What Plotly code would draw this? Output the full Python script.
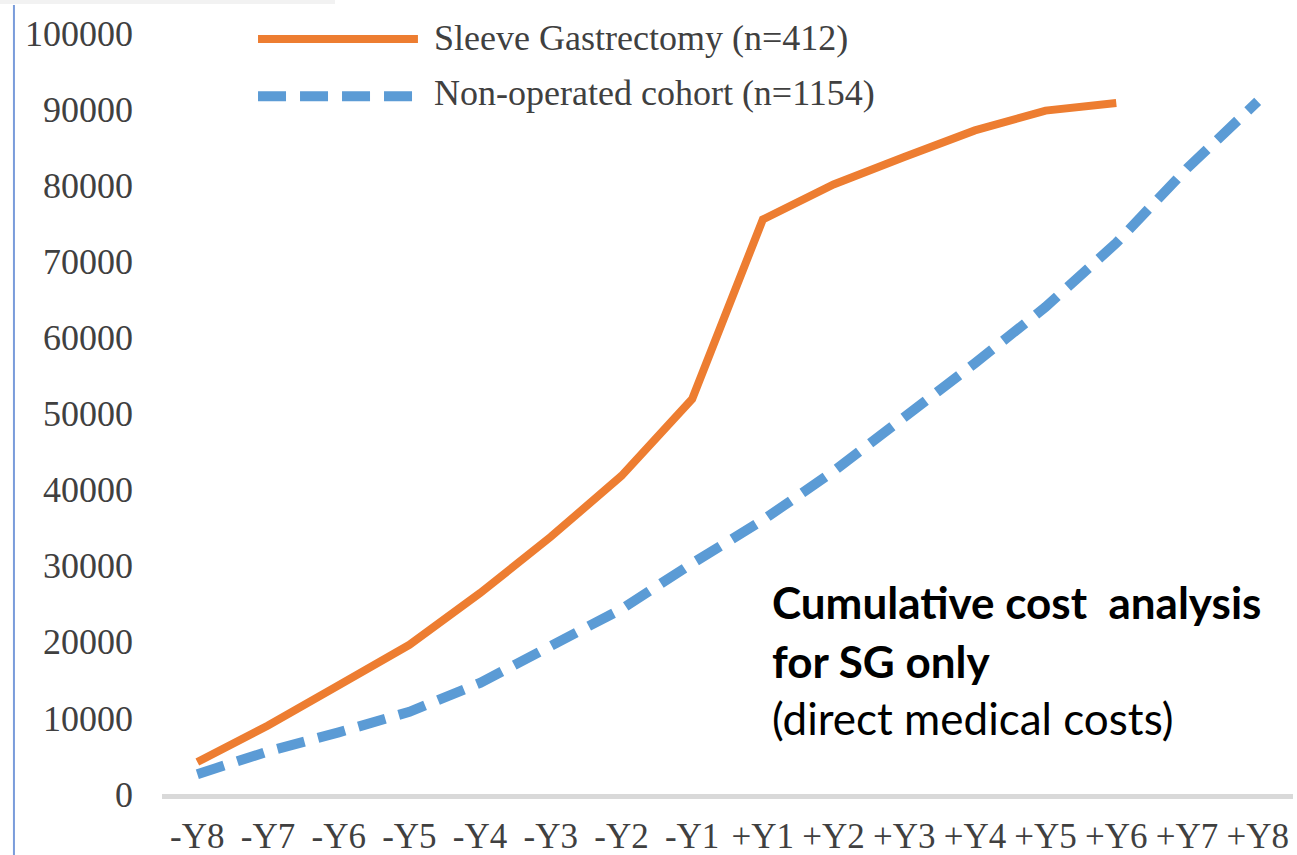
import plotly.graph_objects as go

# Cumulative direct medical costs per year relative to surgery
categories = ["-Y8", "-Y7", "-Y6", "-Y5", "-Y4", "-Y3", "-Y2", "-Y1",
              "+Y1", "+Y2", "+Y3", "+Y4", "+Y5", "+Y6", "+Y7", "+Y8"]
sleeve_gastrectomy = [4200, 9000, 14300, 19600, 26400, 33800, 41800, 51900,
                      75500, 80100, 83700, 87200, 89800, 90800, None, None]
non_operated = [2600, 5600, 8100, 10800, 14600, 19400, 24300, 30300,
                36000, 42400, 49400, 56600, 64000, 72400, 82200, 91000]

y_ticks = [0, 10000, 20000, 30000, 40000, 50000, 60000, 70000, 80000, 90000, 100000]

legend_labels = ["Sleeve Gastrectomy (n=412)", "Non-operated cohort (n=1154)"]
note_lines = ["Cumulative cost  analysis", "for SG only", "(direct medical costs)"]

ORANGE = "#ED7D31"
BLUE = "#5B9BD5"
TEXT = "#404040"
SERIF = "Liberation Serif, Times New Roman, serif"
SANS = "Lato, Open Sans, sans-serif"
BLUE_DASH = "28px,14px"

fig = go.Figure()
fig.add_trace(go.Scatter(
    x=categories, y=sleeve_gastrectomy, mode="lines", name=legend_labels[0],
    line=dict(color=ORANGE, width=8), connectgaps=False, cliponaxis=False,
))
fig.add_trace(go.Scatter(
    x=categories, y=non_operated, mode="lines", name=legend_labels[1],
    line=dict(color=BLUE, width=10, dash=BLUE_DASH), cliponaxis=False,
))

shapes = [
    # legend line samples
    dict(type="line", xref="paper", yref="paper", x0=0.0849, x1=0.2263, y0=0.992, y1=0.992,
         line=dict(color=ORANGE, width=8)),
    dict(type="line", xref="paper", yref="paper", x0=0.0849, x1=0.2237, y0=0.917, y1=0.917,
         line=dict(color=BLUE, width=10, dash=BLUE_DASH)),
    # page frame marks
    dict(type="line", xref="paper", yref="paper", x0=-0.1309, x1=-0.1309, y0=1.0368, y1=-0.09,
         line=dict(color="#7A9CDB", width=2)),
    dict(type="rect", xref="paper", yref="paper", x0=-0.1432, x1=0.153, y0=1.0381, y1=1.0434,
         line=dict(width=0), fillcolor="#F2F2F2"),
]

annotations = [
    dict(xref="paper", yref="paper", x=0.2387, y=0.994, xanchor="left", yanchor="middle",
         text=legend_labels[0], showarrow=False, font=dict(family=SERIF, size=36, color=TEXT)),
    dict(xref="paper", yref="paper", x=0.2387, y=0.9218, xanchor="left", yanchor="middle",
         text=legend_labels[1], showarrow=False, font=dict(family=SERIF, size=36, color=TEXT)),
    dict(xref="paper", yref="paper", x=0.538, y=0.2523, xanchor="left", yanchor="middle",
         text="<b>" + note_lines[0] + "</b>", showarrow=False,
         font=dict(family=SANS, size=44, color="#000000")),
    dict(xref="paper", yref="paper", x=0.538, y=0.1754, xanchor="left", yanchor="middle",
         text="<b>" + note_lines[1] + "</b>", showarrow=False,
         font=dict(family=SANS, size=44, color="#000000")),
    dict(xref="paper", yref="paper", x=0.538, y=0.0999, xanchor="left", yanchor="middle",
         text=note_lines[2], showarrow=False,
         font=dict(family=SANS, size=44, color="#000000")),
]

fig.update_layout(
    width=1297, height=855, autosize=False,
    margin=dict(l=162, r=4, t=33, b=61),
    paper_bgcolor="white", plot_bgcolor="white",
    showlegend=False,
    shapes=shapes, annotations=annotations,
    xaxis=dict(
        type="category", categoryorder="array", categoryarray=categories,
        range=[-0.5, 15.5], showgrid=False, zeroline=False, automargin=False,
        showline=True, linecolor="#D9D9D9", linewidth=5,
        ticks="", ticklabelstandoff=7,
        tickfont=dict(family=SERIF, size=35, color=TEXT),
    ),
    yaxis=dict(
        range=[0, 100000], tickvals=y_ticks, ticktext=[str(v) for v in y_ticks],
        showgrid=False, zeroline=False, showline=False, automargin=False,
        ticks="", ticklabelstandoff=28,
        tickfont=dict(family=SERIF, size=36, color=TEXT),
    ),
)

fig.write_html("out.html")
